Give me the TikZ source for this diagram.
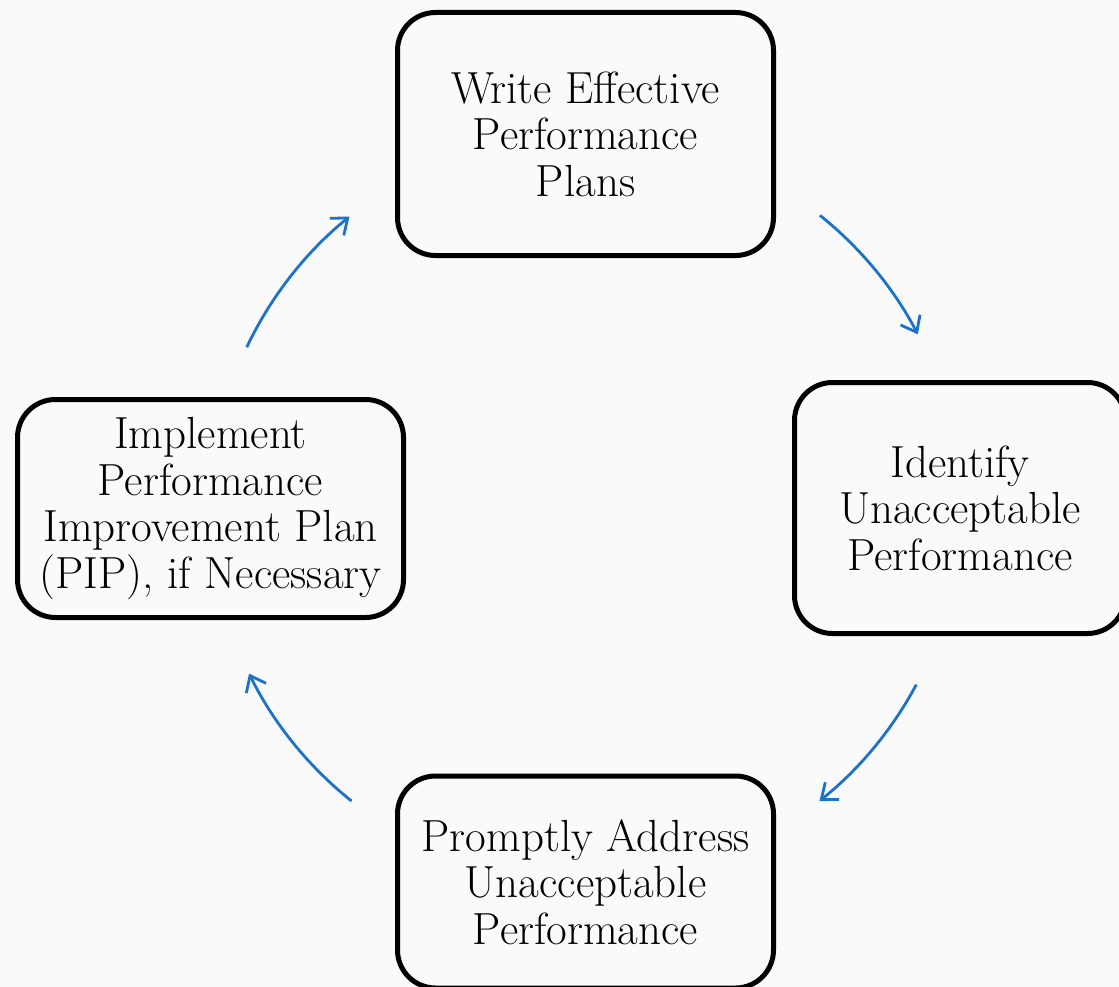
\documentclass[tikz,border=0pt]{standalone}
\usetikzlibrary{arrows.meta, positioning}
\definecolor{cycle_blue}{RGB}{28,114,200}
\tikzset{
  stage_font/.style = {font=\fontsize{45}{46.5}\selectfont},
  stage/.style = {stage_font, align=center, draw, line width=5pt, rounded corners=38pt, inner sep=0pt},
  flow/.style = {draw=cycle_blue, line width=2.8pt, -{Straight Barb[length=14pt, width=22pt]}}
}

\begin{document}
\begin{tikzpicture}[x=1pt, y=1pt]
    % page and backdrop
    \useasboundingbox (0,0) rectangle (1119,-987);
    \clip (0,0) rectangle (1119,-987);
    \fill[black!2] (0,0) rectangle (1119,-987);

    % the four stages
    \node[stage, minimum width=376pt, minimum height=243pt] at (585.5,-134) (write_plans) {
        Write Effective\\ Performance\\ Plans};
    \node[stage, minimum width=331pt, minimum height=251pt] at (960,-508) (identify) {
        Identify\\ Unacceptable\\ Performance};
    \node[stage, minimum width=376pt, minimum height=212pt] at (585.5,-882) (address) {
        Promptly Address\\ Unacceptable\\ Performance};
    \node[stage, minimum width=386pt, minimum height=218pt] at (210.5,-508.5) (implement) {
        Implement\\ Performance\\ Improvement Plan\\ (PIP), if Necessary};

    % arrows round the cycle
    \coordinate (hub) at (write_plans |- identify);
    \foreach \from/\to in {51.3/27.6, -28.1/-51.4, 231.4/206.2, 154.6/129}
        \draw[flow] (hub) ++(\from:375) arc[start angle=\from, end angle=\to, radius=375];
\end{tikzpicture}
\end{document}
